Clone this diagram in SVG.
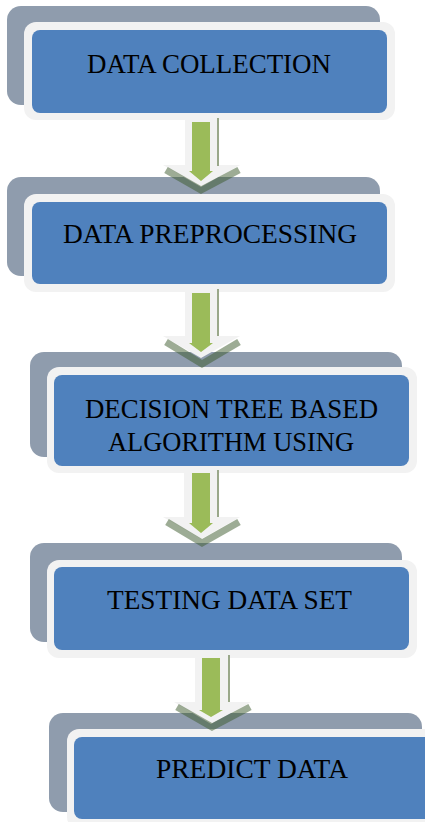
<svg xmlns="http://www.w3.org/2000/svg" width="425" height="822" viewBox="0 0 425 822">
<style>
.back{fill:#8f9cad}
.frame{fill:#f2f2f2}
.face{fill:#4f81bd}
.lbl{font-family:"Liberation Serif","Times New Roman",serif;font-size:28px;fill:#000;text-anchor:middle}
.aw{fill:#f2f2f2}
.ag{fill:#9bbb59}
.ash{fill:none;stroke:#3c5a2c;stroke-opacity:0.5;stroke-width:7;stroke-linejoin:miter}
.aln{stroke:#9aa88a;stroke-width:2}
</style>
<rect width="425" height="822" fill="#ffffff"/>
<g id="node-data-collection">
<rect class="back" x="7" y="6" width="373" height="99" rx="14"/>
<rect class="frame" x="24" y="22" width="371" height="98" rx="12"/>
<rect class="face" x="32" y="30" width="355" height="83" rx="8"/>
<text class="lbl" x="209" y="73" textLength="244" lengthAdjust="spacingAndGlyphs">DATA COLLECTION</text>
</g>
<g id="node-data-preprocessing">
<rect class="back" x="7" y="177" width="373" height="99" rx="14"/>
<rect class="frame" x="24" y="194" width="371" height="98" rx="12"/>
<rect class="face" x="32" y="202" width="355" height="82" rx="8"/>
<text class="lbl" x="210" y="243" textLength="294" lengthAdjust="spacingAndGlyphs">DATA PREPROCESSING</text>
</g>
<g id="node-decision-tree">
<rect class="back" x="30" y="352" width="372" height="105" rx="14"/>
<rect class="frame" x="47" y="367" width="370" height="106" rx="12"/>
<rect class="face" x="54" y="375" width="355" height="91" rx="8"/>
<text class="lbl" x="231.5" y="418" textLength="293" lengthAdjust="spacingAndGlyphs">DECISION TREE BASED</text>
<text class="lbl" x="231" y="451" textLength="246" lengthAdjust="spacingAndGlyphs">ALGORITHM USING</text>
</g>
<g id="node-testing-data-set">
<rect class="back" x="30" y="543" width="372" height="99" rx="14"/>
<rect class="frame" x="47" y="560" width="370" height="98" rx="12"/>
<rect class="face" x="54" y="567" width="355" height="83" rx="8"/>
<text class="lbl" x="229.5" y="609" textLength="245" lengthAdjust="spacingAndGlyphs">TESTING DATA SET</text>
</g>
<g id="node-predict-data">
<rect class="back" x="49" y="713" width="373" height="99" rx="14"/>
<rect class="frame" x="67" y="729" width="380" height="100" rx="12"/>
<rect class="face" x="74" y="737" width="366" height="82" rx="8"/>
<text class="lbl" x="252" y="778" textLength="192" lengthAdjust="spacingAndGlyphs">PREDICT DATA</text>
</g>
<g id="connectors">
<g id="arrow-1">
<polygon class="aw" points="185,120 219,120 219,165 240,165 201,187 163,165 185,165"/>
<polyline class="ash" points="166,170 201,190 239,170"/>
<line class="aln" x1="218" y1="118" x2="218" y2="166"/>
<polygon class="ag" points="192,122 210,122 210,171 213,171 201,181 189,171 192,171"/>
</g>
<g id="arrow-2">
<polygon class="aw" points="185,292 219,292 219,336 240,336 201,358 163,336 185,336"/>
<polyline class="ash" points="166,342 202,364 239,342"/>
<line class="aln" x1="218" y1="289" x2="218" y2="336"/>
<polygon class="ag" points="192,293 210,293 210,343 213,343 201,352 189,343 192,343"/>
</g>
<g id="arrow-3">
<polygon class="aw" points="184,468 219,468 219,517 240,517 201,539 163,517 184,517"/>
<polyline class="ash" points="167,522 202,543 239,522"/>
<line class="aln" x1="218" y1="470" x2="218" y2="517"/>
<polygon class="ag" points="192,473 210,473 210,523 213,523 201,533 189,523 192,523"/>
</g>
<g id="arrow-4">
<polygon class="aw" points="195,650 230,650 230,702 251,702 211,724 174,702 195,702"/>
<polyline class="ash" points="177,707 212,727 250,707"/>
<line class="aln" x1="229" y1="655" x2="229" y2="702"/>
<polygon class="ag" points="202,658 220,658 220,710 223,710 211,717 199,710 202,710"/>
</g>
</g>
</svg>
